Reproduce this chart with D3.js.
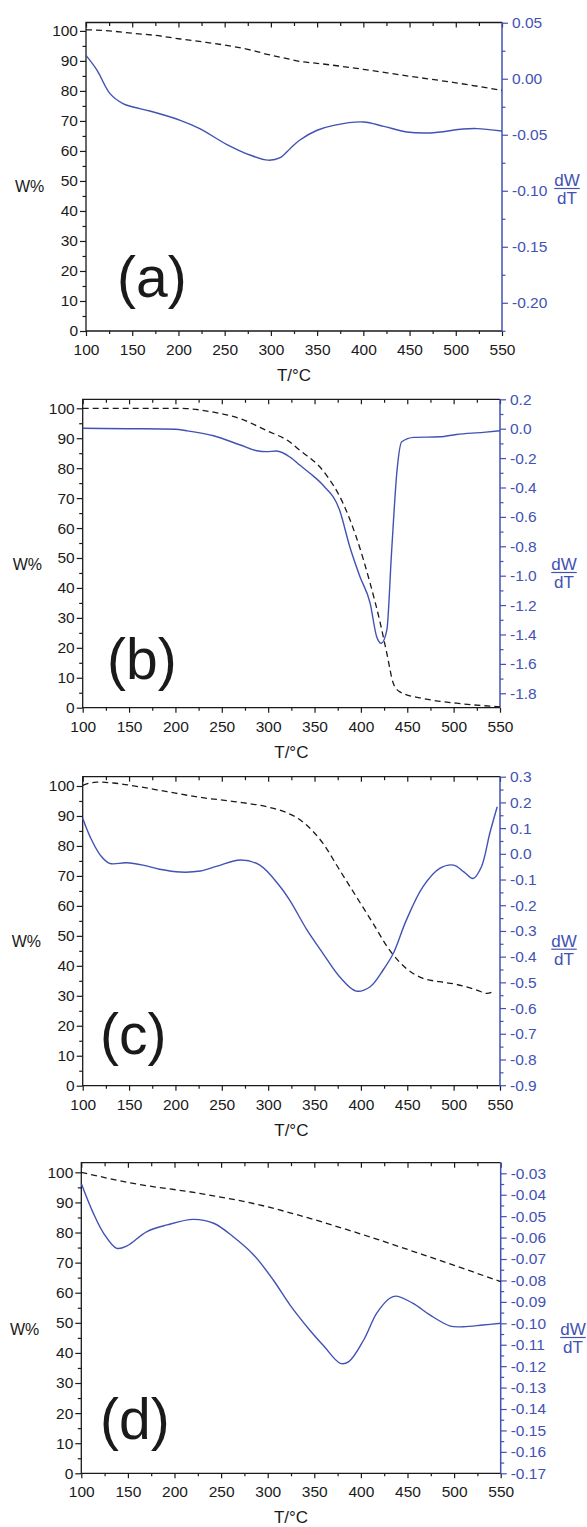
<!DOCTYPE html>
<html>
<head>
<meta charset="utf-8">
<script src="https://cdn.jsdelivr.net/npm/d3@7"></script>
<style>
  body { margin: 0; background: #fff; }
  svg text { font-family: "Liberation Sans", Arial, sans-serif; }
</style>
</head>
<body>
<script>
// shared ticks
var xTicks = [100, 150, 200, 250, 300, 350, 400, 450, 500, 550];
var xMinor = [125, 175, 225, 275, 325, 375, 425, 475, 525];
var wTicks = [0, 10, 20, 30, 40, 50, 60, 70, 80, 90, 100];
var wMinor = [5, 15, 25, 35, 45, 55, 65, 75, 85, 95];

// (a)
var aTw = [100, 125, 151, 175, 202, 230, 259, 280, 296, 320, 332, 350, 400, 450, 500, 550];
var aW  = [100.4, 100, 99.2, 98.5, 97.3, 96.2, 94.8, 93.5, 92.2, 90.6, 89.8, 89.2, 87.2, 84.9, 82.7, 80.2];
var aTd = [100, 112, 126, 140, 151, 169, 202, 223, 252, 278, 297, 310, 321, 331, 350, 368, 400, 422, 447, 472, 508, 523, 550];
var aD  = [0.0208, 0.0075, -0.0133, -0.0222, -0.0252, -0.0288, -0.0371, -0.0445, -0.0585, -0.0683, -0.0727, -0.0705,
           -0.0622, -0.0549, -0.0460, -0.0416, -0.0386, -0.0425, -0.0475, -0.0484, -0.0449, -0.0445, -0.0466];
var aDTicks = [0.05, 0, -0.05, -0.1, -0.15, -0.2];

// (b)
var bTw = [100, 150, 200, 212, 241, 270, 298, 323, 334, 359, 381, 395, 410, 421, 428, 435, 442, 467, 503, 550];
var bW  = [100, 100, 100, 99.9, 98.7, 96.5, 92.6, 88.8, 86.0, 79.2, 68.1, 57, 41.5, 28.1, 18.1, 8.1, 5.3, 3.1, 1.5, 0.3];
var bTd = [100, 150, 200, 212, 241, 270, 288, 298, 309, 324, 334, 345, 359, 377, 388, 399, 410, 417, 422, 428, 433, 439, 444, 457, 485, 503, 532, 550];
var bD  = [0.003, 0.0, -0.004, -0.014, -0.048, -0.111, -0.15, -0.156, -0.152, -0.195, -0.247, -0.303, -0.383, -0.553,
           -0.803, -1.007, -1.188, -1.415, -1.46, -1.369, -0.848, -0.281, -0.089, -0.059, -0.055, -0.039, -0.025, -0.014];
var bDTicks = [0.2, 0, -0.2, -0.4, -0.6, -0.8, -1.0, -1.2, -1.4, -1.6, -1.8];

// (c)
var cTw = [100, 115, 133, 162, 191, 227, 263, 298, 320, 334, 342, 359, 377, 395, 413, 431, 449, 467, 485, 503, 525, 536, 543];
var cW  = [100.2, 101.3, 101, 99.7, 98.1, 96.2, 94.8, 93.1, 91.1, 88.8, 86.8, 80.9, 72, 63.1, 54.2, 45.2, 39.1, 35.8, 34.7, 33.8, 31.9, 30.8, 31.5];
var cTd = [100, 108, 119, 129, 147, 165, 183, 205, 227, 245, 270, 291, 313, 324, 342, 359, 377, 395, 410, 424, 435, 449, 467, 485, 500, 511, 521, 530, 539, 547];
var cD  = [0.138, 0.066, -0.005, -0.037, -0.035, -0.044, -0.06, -0.071, -0.067, -0.048, -0.024, -0.044, -0.128, -0.185,
           -0.297, -0.387, -0.478, -0.534, -0.517, -0.452, -0.387, -0.258, -0.128, -0.057, -0.044, -0.07, -0.096, -0.05, 0.08, 0.183];
var cDTicks = [0.3, 0.2, 0.1, 0, -0.1, -0.2, -0.3, -0.4, -0.5, -0.6, -0.7, -0.8, -0.9];

// (d)
var dTw = [100, 156, 227, 299, 327, 396, 467, 550];
var dW  = [100, 96.3, 93, 88.6, 86.3, 79.9, 72.6, 63.7];
var dTd = [100, 113, 124, 138, 149, 170, 192, 220, 242, 263, 285, 306, 324, 345, 360, 378, 387, 403, 417, 431, 438, 456, 474, 496, 510, 531, 550];
var dD  = [-0.0347, -0.0487, -0.058, -0.065, -0.0639, -0.0573, -0.0541, -0.0515, -0.0533, -0.0596, -0.0681, -0.0798, -0.0915,
           -0.1031, -0.1105, -0.1187, -0.1179, -0.1078, -0.0953, -0.0883, -0.0873, -0.0907, -0.0961, -0.1013, -0.1016, -0.1008, -0.1];
var dDTicks = [-0.03, -0.04, -0.05, -0.06, -0.07, -0.08, -0.09, -0.1, -0.11, -0.12, -0.13, -0.14, -0.15, -0.16, -0.17];

var blue = "#4252b4";
var ink = "#1a1a1a";

// panel layout (pixel positions) + which arrays to use
var panels = [
  { tag: "(a)", x0: 86, x1: 502, top: 22.5, bottom: 331, wTop: 102.8, dDom: [-0.2252, 0.0502], dec: 2,
    tw: aTw, w: aW, td: aTd, d: aD, dTicks: aDTicks, smooth: true,
    tagX: 117, tagY: 297, wLabX: 15, wLabY: 192, dwX: 567, dwY: 186 },
  { tag: "(b)", x0: 82.7, x1: 500, top: 399.3, bottom: 707.7, wTop: 103, dDom: [-1.898, 0.2], dec: 1,
    tw: bTw, w: bW, td: bTd, d: bD, dTicks: bDTicks, smooth: false,
    tagX: 107, tagY: 679, wLabX: 12.7, wLabY: 570, dwX: 564, dwY: 570 },
  { tag: "(c)", x0: 82.7, x1: 500, top: 776.7, bottom: 1085.7, wTop: 103.1, dDom: [-0.902, 0.3], dec: 1,
    tw: cTw, w: cW, td: cTd, d: cD, dTicks: cDTicks, smooth: true,
    tagX: 100, tagY: 1054, wLabX: 11.7, wLabY: 946.7, dwX: 564, dwY: 946.7 },
  { tag: "(d)", x0: 81.3, x1: 500.7, top: 1162.7, bottom: 1473.3, wTop: 103.2, dDom: [-0.17, -0.02505], dec: 2,
    tw: dTw, w: dW, td: dTd, d: dD, dTicks: dDTicks, smooth: true,
    tagX: 100, tagY: 1438.6, wLabX: 10, wLabY: 1335, dwX: 573, dwY: 1335 }
];

function minorOf(ticks, dom) {
    var out = [];
    var step = ticks[1] - ticks[0];
    for (var i = 0; i < ticks.length - 1; i++) out.push((ticks[i] + ticks[i + 1]) / 2);
    var ext = ticks[ticks.length - 1] + step / 2;
    if (ext >= dom[0] - 1e-9 && ext <= dom[1] + 1e-9) out.push(ext);
    var pre = ticks[0] - step / 2;
    if (pre >= dom[0] - 1e-9 && pre <= dom[1] + 1e-9) out.push(pre);
    return out;
}

function styleAxis(g, color) {
    g.select(".domain").remove();
    g.selectAll("line").attr("stroke", color).attr("stroke-width", 1.2);
    g.selectAll("text").attr("fill", color).style("font-size", "15.5px")
     .style("font-family", "'Liberation Sans', Arial, sans-serif");
}

function drawPanel(svg, p) {
    var x = d3.scaleLinear().domain([100, 550]).range([p.x0, p.x1]);
    var yW = d3.scaleLinear().domain([0, p.wTop]).range([p.bottom, p.top]);
    var yD = d3.scaleLinear().domain(p.dDom).range([p.bottom, p.top]);

    var g = svg.append("g");

    // bottom axis
    g.append("g").attr("transform", "translate(0," + p.bottom + ")")
     .call(d3.axisBottom(x).tickValues(xMinor).tickSize(3).tickFormat(""))
     .call(styleAxis, ink);
    g.append("g").attr("transform", "translate(0," + p.bottom + ")")
     .call(d3.axisBottom(x).tickValues(xTicks).tickSize(5).tickPadding(8))
     .call(styleAxis, ink);

    // top axis, ticks inward
    g.append("g").attr("transform", "translate(0," + p.top + ")")
     .call(d3.axisTop(x).tickValues(xMinor).tickSize(-3.5).tickFormat(""))
     .call(styleAxis, ink);
    g.append("g").attr("transform", "translate(0," + p.top + ")")
     .call(d3.axisTop(x).tickValues(xTicks).tickSize(-5).tickFormat(""))
     .call(styleAxis, ink);

    // left axis
    g.append("g").attr("transform", "translate(" + p.x0 + ",0)")
     .call(d3.axisLeft(yW).tickValues(wMinor).tickSize(3.5).tickFormat(""))
     .call(styleAxis, ink);
    g.append("g").attr("transform", "translate(" + p.x0 + ",0)")
     .call(d3.axisLeft(yW).tickValues(wTicks).tickSize(6).tickPadding(2))
     .call(styleAxis, ink);

    // right axis (blue)
    g.append("g").attr("transform", "translate(" + p.x1 + ",0)")
     .call(d3.axisRight(yD).tickValues(minorOf(p.dTicks.slice().reverse(), p.dDom)).tickSize(3.5).tickFormat(""))
     .call(styleAxis, blue);
    g.append("g").attr("transform", "translate(" + p.x1 + ",0)")
     .call(d3.axisRight(yD).tickValues(p.dTicks).tickSize(6).tickPadding(4)
           .tickFormat(function(v) { return v.toFixed(p.dec); }))
     .call(styleAxis, blue);

    // frame
    g.append("path")
     .attr("d", "M" + p.x1 + "," + p.top + "H" + p.x0 + "V" + p.bottom + "H" + p.x1)
     .attr("fill", "none").attr("stroke", ink).attr("stroke-width", 1.3);
    g.append("line")
     .attr("x1", p.x1).attr("x2", p.x1).attr("y1", p.top).attr("y2", p.bottom)
     .attr("stroke", blue).attr("stroke-width", 1.5);

    // curves
    var wLine = d3.line()
        .x(function(d, i) { return x(p.tw[i]); })
        .y(function(d) { return yW(d); })
        .curve(d3.curveMonotoneX);
    var dLine = d3.line()
        .x(function(d, i) { return x(p.td[i]); })
        .y(function(d) { return yD(d); })
        .curve(p.smooth ? d3.curveCatmullRom.alpha(0.5) : d3.curveMonotoneX);

    g.append("path").datum(p.w).attr("d", wLine)
     .attr("fill", "none").attr("stroke", ink).attr("stroke-width", 1.3)
     .attr("stroke-dasharray", "6,4");
    g.append("path").datum(p.d).attr("d", dLine)
     .attr("fill", "none").attr("stroke", blue).attr("stroke-width", 1.4);

    // labels
    g.append("text").attr("x", (p.x0 + p.x1) / 2).attr("y", p.bottom + 50)
     .attr("text-anchor", "middle").attr("fill", ink).style("font-size", "17px").text("T/°C");
    g.append("text").attr("x", p.wLabX).attr("y", p.wLabY)
     .attr("fill", ink).style("font-size", "16px").text("W%");
    g.append("text").attr("x", p.tagX).attr("y", p.tagY)
     .attr("fill", ink).style("font-size", "57px").text(p.tag);

    var dw = g.append("text").attr("x", p.dwX).attr("y", p.dwY)
     .attr("text-anchor", "middle").attr("fill", blue).style("font-size", "17px").text("dW");
    var wd = dw.node().getComputedTextLength();
    g.append("line").attr("x1", p.dwX - wd / 2).attr("x2", p.dwX + wd / 2)
     .attr("y1", p.dwY + 2.5).attr("y2", p.dwY + 2.5)
     .attr("stroke", blue).attr("stroke-width", 1.2);
    g.append("text").attr("x", p.dwX).attr("y", p.dwY + 18)
     .attr("text-anchor", "middle").attr("fill", blue).style("font-size", "17px").text("dT");
}

function init() {
    var svg = d3.select("body").append("svg")
                .attr("width", 587)
                .attr("height", 1527);
    panels.forEach(function(p) { drawPanel(svg, p); });
}
window.onload = init;
</script>
</body>
</html>
